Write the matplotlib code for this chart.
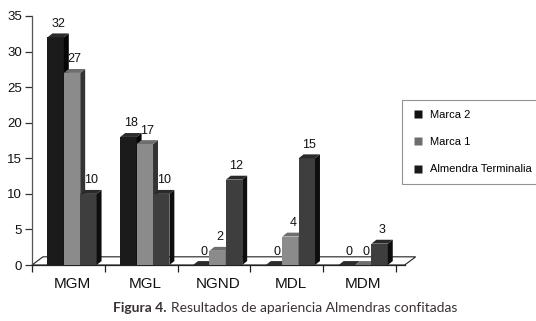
import matplotlib.pyplot as plt
from matplotlib.patches import Polygon
from matplotlib.lines import Line2D
import numpy as np

# data
categories = ['MGM', 'MGL', 'NGND', 'MDL', 'MDM']
series = ['Marca 2', 'Marca 1', 'Almendra Terminalia']
marca2 = [32, 18, 0, 0, 0]
marca1 = [27, 17, 2, 4, 0]
almendra = [10, 10, 12, 15, 3]
values = [marca2, marca1, almendra]

# front / side / top shades for each series
front = ['#1b1b1b', '#8b8b8b', '#3e3e3e']
side = ['#050505', '#333333', '#0e0e0e']
top = ['#2c2c2c', '#6e6e6e', '#2a2a2a']

plt.rcParams['font.family'] = ['Liberation Sans', 'DejaVu Sans']

fig = plt.figure(figsize=(5.36, 3.21), dpi=100)
ax = fig.add_axes([32 / 536, 56 / 321, 364 / 536, 249 / 321])
ax.set_xlim(-0.5, 4.5)
ax.set_ylim(0, 35)

width = 0.225
ddx, ddy = 0.068, 0.55     # bar depth in data units
fdx, fdy = 0.15, 1.15      # floor depth

# floor
floor = Polygon([(-0.5, 0), (4.62, 0), (4.62 + fdx, fdy), (-0.5 + fdx, fdy)],
                closed=True, facecolor='white', edgecolor='#222222', lw=0.8,
                clip_on=False, zorder=1)
ax.add_patch(floor)

x = np.arange(len(categories))
for s, vals in enumerate(values):
    xs = x + 0.05 + (s - 1) * width
    ax.bar(xs, vals, width=width, color=front[s], edgecolor='none', zorder=3)
    for xc, v in zip(xs, vals):
        x0, x1 = xc - width / 2, xc + width / 2
        ax.add_patch(Polygon([(x1, 0), (x1 + ddx, ddy), (x1 + ddx, v + ddy), (x1, v)],
                             closed=True, facecolor=side[s], edgecolor='none', zorder=3))
        ax.add_patch(Polygon([(x0, v), (x1, v), (x1 + ddx, v + ddy), (x0 + ddx, v + ddy)],
                             closed=True, facecolor=top[s], edgecolor='none', zorder=3))
        ax.text(xc + ddx / 2, v + ddy + 0.5, str(v), ha='center', va='bottom',
                fontsize=9, color='#111111', zorder=4,
                family=['Liberation Sans Narrow', 'Liberation Sans'])

# axes styling
for sp in ['top', 'right']:
    ax.spines[sp].set_visible(False)
ax.spines['left'].set_color('#555555')
ax.spines['bottom'].set_color('#222222')
ax.spines['left'].set_linewidth(0.9)
ax.spines['bottom'].set_linewidth(0.9)
ax.spines['bottom'].set_bounds(-0.5, 4.62)

ax.set_yticks(range(0, 36, 5))
ax.tick_params(axis='y', length=5, width=0.9, color='#333333', pad=2,
               labelsize=9.5, labelcolor='#111111')
ax.set_xticks(x + 0.05)
ax.set_xticklabels(categories)
ax.set_xticks(np.arange(-0.5, 5.0, 1.0), minor=True)
ax.tick_params(axis='x', which='major', length=0, pad=9, labelsize=11,
               labelcolor='#111111')
ax.tick_params(axis='x', which='minor', length=5, width=0.9, color='#222222')

# legend
handles = [Line2D([], [], marker='s', ls='none', markersize=6,
                  markerfacecolor=c, markeredgecolor='none')
           for c in ['#111111', '#6e6e6e', '#1a1a1a']]
leg = fig.legend(handles, series, loc='upper left',
                 bbox_to_anchor=(402 / 536, 1 - 100 / 321),
                 frameon=True, fancybox=False, fontsize=8,
                 labelspacing=1.55, handletextpad=0.6, handlelength=1.0,
                 borderpad=0.9, borderaxespad=0)
leg.get_frame().set_edgecolor('#777777')
leg.get_frame().set_linewidth(0.8)

# caption
fig.text(113 / 536, 1 - 308 / 321, 'Figura 4.', fontsize=10, fontweight='bold',
         color='#3a3030', family=['Lato', 'DejaVu Sans'], va='center')
fig.text(171 / 536, 1 - 308 / 321, 'Resultados de apariencia Almendras confitadas',
         fontsize=10, color='#3a3030', family=['Lato', 'DejaVu Sans'], va='center')

fig.savefig('out.png', dpi=100)
